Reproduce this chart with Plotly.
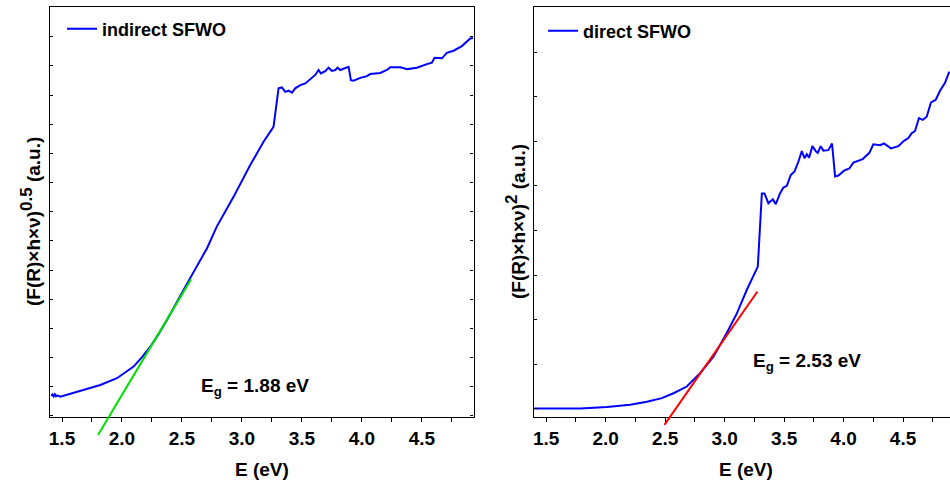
import plotly.graph_objects as go

# ---------------- data ----------------
E_indirect = [1.411, 1.42, 1.43, 1.44, 1.45, 1.46, 1.486, 1.583, 1.68, 1.819, 1.958, 2.097,
              2.167, 2.236, 2.306, 2.375, 2.513, 2.653, 2.708, 2.79, 2.93, 3.069, 3.18, 3.263,
              3.305, 3.333, 3.361, 3.388, 3.417, 3.444, 3.486, 3.528, 3.569, 3.611, 3.639, 3.658,
              3.694, 3.722, 3.75, 3.778, 3.797, 3.819, 3.889, 3.908, 3.93, 3.986, 4.042, 4.069,
              4.153, 4.208, 4.236, 4.319, 4.38, 4.458, 4.542, 4.583, 4.605, 4.667, 4.708, 4.764,
              4.833, 4.903, 4.925]
Y_indirect = [-0.32, -0.27, -0.33, -0.26, -0.33, -0.30, -0.34, -0.23, -0.11, 0.06, 0.29, 0.69,
              1.01, 1.37, 1.81, 2.29, 3.32, 4.35, 4.74, 5.49, 6.51, 7.60, 8.40, 8.91,
              10.23, 10.26, 10.11, 10.15, 10.08, 10.23, 10.34, 10.40, 10.55, 10.69, 10.86, 10.74,
              10.82, 10.94, 10.83, 10.86, 10.94, 10.86, 10.97, 10.51, 10.49, 10.59, 10.65, 10.72,
              10.76, 10.86, 10.95, 10.95, 10.89, 10.94, 11.06, 11.11, 11.28, 11.26, 11.45, 11.52,
              11.68, 11.94, 11.96]
E_indirect_fit = [1.80, 2.575]
Y_indirect_fit = [-1.66, 3.68]

E_direct = [1.399, 1.786, 2.01, 2.206, 2.346, 2.472, 2.57, 2.682, 2.794, 2.906, 3.018, 3.103,
            3.187, 3.242, 3.279, 3.313, 3.335, 3.368, 3.405, 3.43, 3.466, 3.494, 3.523, 3.556,
            3.587, 3.62, 3.649, 3.671, 3.691, 3.71, 3.738, 3.769, 3.783, 3.808, 3.83, 3.872,
            3.903, 3.929, 3.957, 4.004, 4.049, 4.082, 4.161, 4.217, 4.25, 4.307, 4.34, 4.399,
            4.461, 4.508, 4.545, 4.573, 4.601, 4.634, 4.666, 4.699, 4.735, 4.775, 4.811, 4.853,
            4.889]
Y_direct = [-0.99, -0.99, -0.96, -0.91, -0.84, -0.76, -0.65, -0.50, -0.20, 0.17, 0.70, 1.14,
            1.67, 2.00, 2.19, 3.83, 3.83, 3.61, 3.70, 3.59, 3.83, 3.96, 4.00, 4.24,
            4.32, 4.54, 4.78, 4.62, 4.71, 4.63, 4.89, 4.77, 4.74, 4.89, 4.79, 4.80,
            4.95, 4.21, 4.23, 4.34, 4.39, 4.52, 4.60, 4.74, 4.93, 4.91, 4.95, 4.84,
            4.89, 5.01, 5.07, 5.18, 5.23, 5.52, 5.48, 5.55, 5.87, 5.93, 6.13, 6.31,
            6.56]
E_direct_fit = [2.494, 3.276]
Y_direct_fit = [-1.36, 1.63]

series_names = ["indirect SFWO", "direct SFWO"]
gap_labels = ["E<sub>g</sub> = 1.88 eV", "E<sub>g</sub> = 2.53 eV"]
y_titles = ["(F(R)×h×ν)<sup><span style='font-size:17px'>0.5</span></sup> (a.u.)",
            "(F(R)×h×ν)<sup><span style='font-size:17px'>2</span></sup> (a.u.)"]
x_title = "E (eV)"

# ---------------- layout helpers ----------------
W, H = 950, 486
FONT = "Liberation Sans, Arial, sans-serif"


def fx(p):
    return p / W


def fy(p):
    return 1 - p / H


# panel geometry in pixels: left, right, top, bottom, x-range, y-range
PANELS = [
    dict(x0=50, x1=473.5, t=7, b=417.3, xr=[1.40, 4.93], yr=[-1.05, 13.02]),
    dict(x0=533.5, x1=950, t=7, b=417.3, xr=[1.393, 4.895], yr=[-1.19, 8.01]),
]
LEGEND_X = [62, 543]
LEGEND_Y = [29, 31]
EXT = 30  # extra pixels below the frame where the tangent lines may run

fig = go.Figure()

tick_font = dict(family=FONT, size=19, color="black", weight="bold")
layout = dict(
    width=W, height=H,
    margin=dict(l=0, r=0, t=0, b=0),
    paper_bgcolor="white", plot_bgcolor="rgba(0,0,0,0)",
    showlegend=True,
    font=dict(family=FONT, color="black"),
)

curves = [(E_indirect, Y_indirect), (E_direct, Y_direct)]
fits = [(E_indirect_fit, Y_indirect_fit, "#00e000"), (E_direct_fit, Y_direct_fit, "#ff0000")]
annotations = []

for i, P in enumerate(PANELS):
    n_main = 2 * i + 1
    n_fit = 2 * i + 2
    xs_main = "" if n_main == 1 else str(n_main)
    xdom = [fx(P["x0"]), fx(P["x1"])]
    ydom = [fy(P["b"]), fy(P["t"])]
    ppu = (P["b"] - P["t"]) / (P["yr"][1] - P["yr"][0])
    ydom_ext = [fy(P["b"] + EXT), fy(P["t"])]
    yr_ext = [P["yr"][0] - EXT / ppu, P["yr"][1]]

    layout["xaxis" + xs_main] = dict(
        domain=xdom, range=P["xr"], anchor="y" + xs_main,
        showline=True, linecolor="black", linewidth=1.3, mirror=True,
        ticks="outside", ticklen=4, tickwidth=1.2, tickcolor="black",
        tick0=1.5, dtick=0.5, tickformat=".1f", tickfont=tick_font,
        minor=dict(dtick=0.25, ticks="outside", ticklen=4, tickwidth=1.2, tickcolor="black"),
        showgrid=False, zeroline=False, automargin=False,
    )
    layout["yaxis" + xs_main] = dict(
        domain=ydom, range=P["yr"], anchor="x" + xs_main,
        showline=True, linecolor="black", linewidth=1.3,
        mirror="ticks" if i == 0 else False,
        ticks="inside", ticklen=3, tickwidth=1.2, tickcolor="black",
        tick0=0, dtick=1, showticklabels=False,
        showgrid=False, zeroline=False, automargin=False,
    )
    layout["xaxis" + str(n_fit)] = dict(
        domain=xdom, range=P["xr"], anchor="y" + str(n_fit), visible=False,
    )
    layout["yaxis" + str(n_fit)] = dict(
        domain=ydom_ext, range=yr_ext, anchor="x" + str(n_fit), visible=False,
    )

    legend_key = "legend" if i == 0 else "legend2"
    E, Y = curves[i]
    fig.add_trace(go.Scatter(
        x=E, y=Y, mode="lines", name=series_names[i],
        line=dict(color="#0000ff", width=2),
        xaxis="x" + xs_main, yaxis="y" + xs_main, legend=legend_key,
    ))
    fe, fyv, col = fits[i]
    fig.add_trace(go.Scatter(
        x=fe, y=fyv, mode="lines", showlegend=False,
        line=dict(color=col, width=2),
        xaxis="x" + str(n_fit), yaxis="y" + str(n_fit),
    ))

    layout[legend_key] = dict(
        x=fx(LEGEND_X[i]), y=fy(LEGEND_Y[i]), xanchor="left", yanchor="middle",
        bgcolor="rgba(0,0,0,0)", borderwidth=0,
        font=dict(family=FONT, size=18, color="black", weight="bold"),
    )

    cx = (P["x0"] + P["x1"]) / 2 if i == 0 else 745.5
    annotations.append(dict(
        text=x_title, x=fx(cx), y=fy(469), xref="paper", yref="paper",
        showarrow=False, xanchor="center", yanchor="middle",
        font=dict(family=FONT, size=19, color="black", weight="bold"),
    ))
    annotations.append(dict(
        text=y_titles[i], x=fx(30 if i == 0 else 515), y=fy(222), xref="paper", yref="paper",
        showarrow=False, xanchor="center", yanchor="middle", textangle=-90,
        font=dict(family=FONT, size=19, color="black", weight="bold"),
    ))
    gx, gy = [(255, 387), (807, 362)][i]
    annotations.append(dict(
        text=gap_labels[i], x=fx(gx), y=fy(gy), xref="paper", yref="paper",
        showarrow=False, xanchor="center", yanchor="middle",
        font=dict(family=FONT, size=19, color="black", weight="bold"),
    ))

layout["annotations"] = annotations
fig.update_layout(**layout)
# remove the browser's default page margin so the 950x486 figure fills the window exactly
fig.write_html("out.html", config={"displayModeBar": False},
               post_script="document.body.style.margin='0px';")
